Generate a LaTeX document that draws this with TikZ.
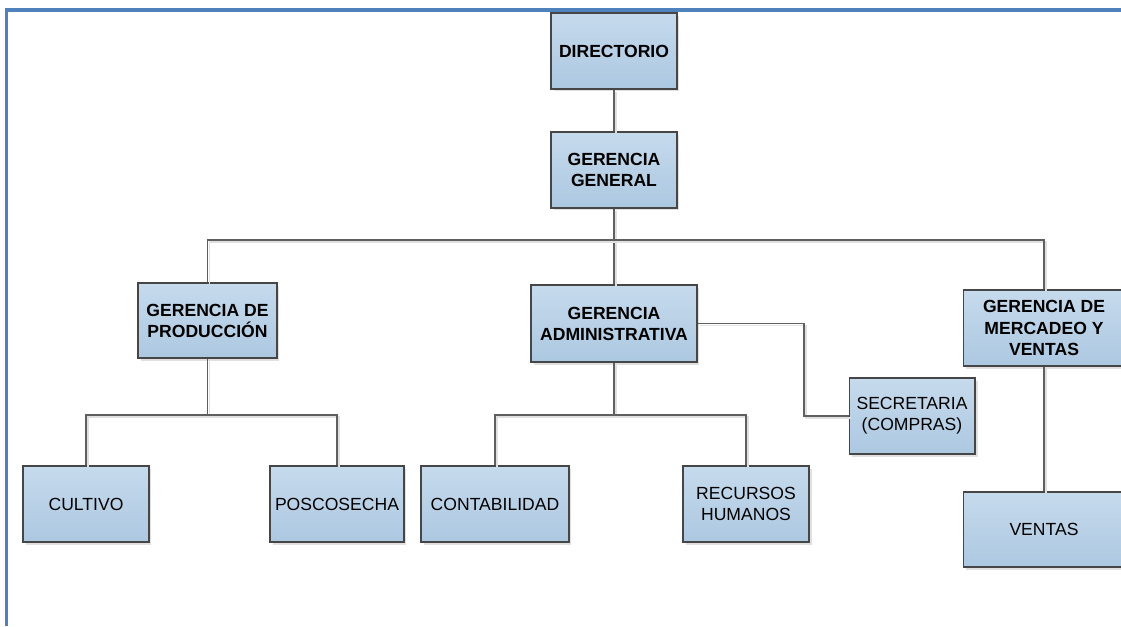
\documentclass[tikz,border=0pt]{standalone}
\usepackage{fontspec}
\setmainfont{Liberation Sans}
\usepackage{tikz}
\usetikzlibrary{positioning,shadows}
\definecolor{frameblue}{RGB}{79,129,189}
\definecolor{boxtop}{RGB}{198,218,236}
\definecolor{boxbot}{RGB}{172,200,225}
\definecolor{edgegray}{RGB}{70,70,70}
\definecolor{linegray}{RGB}{95,95,95}
\tikzstyle{unit}=[rectangle,draw=edgegray,line width=0.6pt,top color=boxtop,bottom color=boxbot,
                  drop shadow={shadow xshift=0.05cm,shadow yshift=-0.05cm,fill=black!12,opacity=1},
                  minimum width=2.52cm,minimum height=1.52cm,inner sep=2pt,align=center,
                  font=\fontsize{10}{12}\selectfont]
\tikzstyle{mgr}=[unit,font=\fontsize{10}{12}\selectfont\bfseries]
\tikzstyle{link}=[draw=linegray,line width=0.6pt,
                  preaction={draw=black!12,line width=0.9pt,transform canvas={xshift=0.04cm,yshift=-0.04cm}}]
\tikzstyle{frameline}=[draw=frameblue,line width=0.08cm]

\begin{document}
\begin{tikzpicture}[x=0.02cm,y=-0.02cm]
      \useasboundingbox (0,0) rectangle (1121,626);
      \draw[frameline] (6.5,626) -- (6.5,9.5) -- (1121,9.5);

      \node[mgr] (dir) at (614,51) {DIRECTORIO};
      \node[mgr] (gen) at (614,170) {GERENCIA\\GENERAL};
      \node[mgr,minimum width=2.78cm,minimum height=1.5cm] (prod) at (207.5,320.5) {GERENCIA DE\\PRODUCCIÓN};
      \node[mgr,minimum width=3.32cm,minimum height=1.54cm] (adm) at (614,323.5) {GERENCIA\\ADMINISTRATIVA};
      \node[mgr,minimum width=3.24cm] (merc) at (1044,328) {GERENCIA DE\\MERCADEO Y\\VENTAS};
      \node[unit] (sec) at (912,416) {SECRETARIA\\(COMPRAS)};
      \node[unit] (cult) at (86,504) {CULTIVO};
      \node[unit,minimum width=2.68cm] (posc) at (337,504) {POSCOSECHA};
      \node[unit,minimum width=2.96cm] (cont) at (495,504) {CONTABILIDAD};
      \node[unit] (rrhh) at (746,504) {RECURSOS\\HUMANOS};
      \node[unit,minimum width=3.24cm,minimum height=1.5cm] (vent) at (1044,529.5) {VENTAS};

      \coordinate (bus) at (614,240);
      \coordinate (pbus) at (207.5,415);
      \coordinate (abus) at (614,415);
      \coordinate (sbend) at (804,323.5);

      \draw[link] (dir) -- (gen);
      \draw[link] (gen) -- (adm);
      \draw[link] (prod.north) |- (bus) -| (merc.north);
      \draw[link] (prod.south) -- (pbus);
      \draw[link] (cult.north) |- (pbus) -| (posc.north);
      \draw[link] (adm.south) -- (abus);
      \draw[link] (cont.north) |- (abus) -| (rrhh.north);
      \draw[link] (adm.east) -- (sbend) |- (sec.west);
      \draw[link] (merc) -- (vent);
    \end{tikzpicture}
\end{document}
